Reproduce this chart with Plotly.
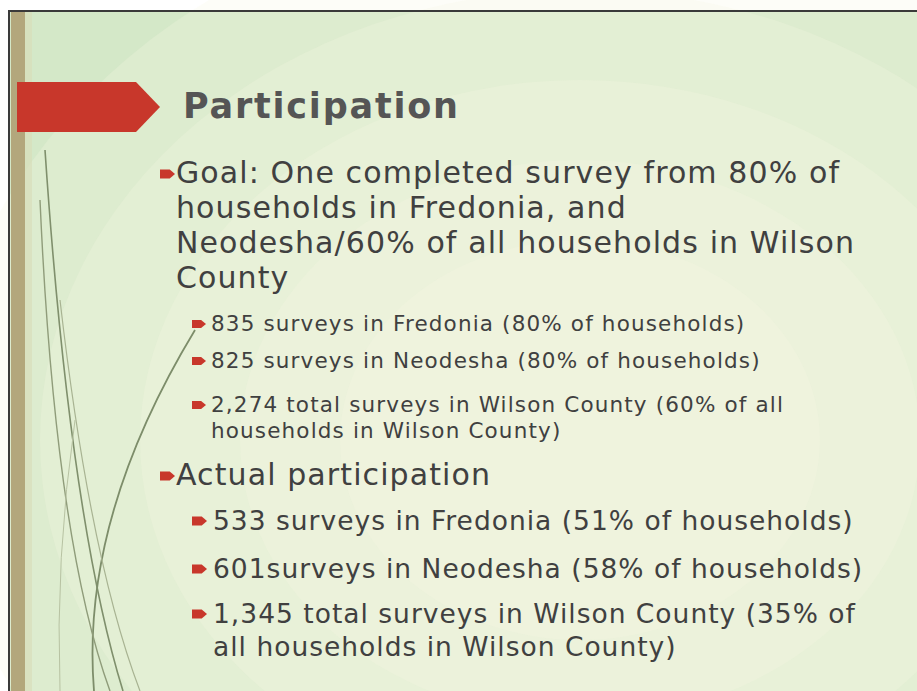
import plotly.graph_objects as go

# ---- content (text of the slide) ----
TITLE = "Participation"
GOAL_LINES = [
    "Goal: One completed survey from 80% of",
    "households in Fredonia, and",
    "Neodesha/60% of all households in Wilson",
    "County",
]
GOAL_ITEMS = [
    ["835 surveys in Fredonia (80% of households)"],
    ["825 surveys in Neodesha (80% of households)"],
    ["2,274 total surveys in Wilson County (60% of all",
     "households in Wilson County)"],
]
ACTUAL_LINES = ["Actual participation"]
ACTUAL_ITEMS = [
    ["533 surveys in Fredonia (51% of households)"],
    ["601surveys in Neodesha (58% of households)"],
    ["1,345 total surveys in Wilson County (35% of",
     "all households in Wilson County)"],
]

# ---- layout (pixel positions on the 917x691 page) ----
W, H = 917, 691
FONT = "DejaVu Sans"
TXT = "#404040"
RED = "#c8372b"

GOAL_Y = [172, 207, 242, 277]
GOAL_ITEM_Y = [[323], [360], [404, 430]]
ACTUAL_Y = [474]
ACTUAL_ITEM_Y = [[520], [568], [613, 646]]

fig = go.Figure()
shapes = []
annotations = []

# page background (scanned white margin at top)
shapes.append(dict(type="rect", x0=0, x1=W, y0=0, y1=H, fillcolor="#ffffff", line_width=0, layer="below"))
# slide base colour
shapes.append(dict(type="rect", x0=8, x1=W, y0=11, y1=H, fillcolor="#d4e8c8", line_width=0, layer="below"))
# radial-ish lighter centre
for rx, ry, op in [(640, 540, 0.25), (540, 450, 0.25), (440, 360, 0.25), (340, 280, 0.25), (240, 200, 0.25)]:
    cx, cy = 580, 440
    shapes.append(dict(type="circle", x0=cx - rx, x1=cx + rx, y0=cy - ry, y1=cy + ry,
                       fillcolor="#f8f6e2", opacity=op, line_width=0, layer="below"))
# top border line
shapes.append(dict(type="line", x0=8, x1=W, y0=11, y1=11, line=dict(color="#3a3a3a", width=2), layer="below"))
# left dark edge and tan strip
shapes.append(dict(type="line", x0=9, x1=9, y0=11, y1=H, line=dict(color="#3a3a3a", width=2), layer="below"))
shapes.append(dict(type="rect", x0=11, x1=25, y0=12, y1=H, fillcolor="#b3a77c", line_width=0, layer="below"))
shapes.append(dict(type="rect", x0=25, x1=32, y0=12, y1=H, fillcolor="#d9dcb8", line_width=0, layer="below", opacity=0.6))

# decorative grass strokes at left
grass = [
    ("M 94 691 Q 80 520 195 330", "#7d8d6a", 1.8),
    ("M 123 691 Q 70 520 45 150", "#7f8f6c", 1.6),
    ("M 110 691 Q 55 540 40 200", "#8f9c7a", 1.4),
    ("M 140 691 Q 90 560 60 300", "#a8b392", 1.2),
    ("M 60 691 Q 55 560 75 420", "#b7c2a2", 1.0),
]
for p, c, w in grass:
    shapes.append(dict(type="path", path=p, line=dict(color=c, width=w), layer="below"))

# red title arrow
shapes.append(dict(type="path", path="M 17 82 L 136 82 L 160 107 L 136 132 L 17 132 Z",
                   fillcolor=RED, line_width=0))

def bullet(x, y, w, h):
    tip = w * 0.35
    return dict(type="path",
                path=f"M {x} {y - h/2} L {x + w - tip} {y - h/2} L {x + w} {y} L {x + w - tip} {y + h/2} L {x} {y + h/2} Z",
                fillcolor=RED, line_width=0)

def text(x, y, s, size, ls, color=TXT, bold=False):
    s = f"<span style='letter-spacing:{ls}px'>{s}</span>"
    if bold:
        s = f"<b>{s}</b>"
    annotations.append(dict(x=x, y=y, xref="x", yref="y", text=s, showarrow=False,
                            xanchor="left", yanchor="middle",
                            font=dict(family=FONT, size=size, color=color)))

# title
text(181, 106, TITLE, 35, 1.8, color="#555555", bold=True)

# level-1 goal
shapes.append(bullet(160, GOAL_Y[0] + 2, 15, 9))
for s, y in zip(GOAL_LINES, GOAL_Y):
    text(174, y, s, 30, 1.1)

# goal sub-items
for lines, ys in zip(GOAL_ITEMS, GOAL_ITEM_Y):
    shapes.append(bullet(192, ys[0] + 1, 14, 8))
    for s, y in zip(lines, ys):
        text(209, y, s, 21.5, 1.15)

# level-1 actual
shapes.append(bullet(160, ACTUAL_Y[0] + 2, 15, 9))
for s, y in zip(ACTUAL_LINES, ACTUAL_Y):
    text(174, y, s, 30, 1.1)

# actual sub-items
for lines, ys in zip(ACTUAL_ITEMS, ACTUAL_ITEM_Y):
    shapes.append(bullet(192, ys[0] + 1, 15, 9))
    for s, y in zip(lines, ys):
        text(211, y, s, 26.5, 1.0)

fig.update_layout(
    width=W, height=H,
    margin=dict(l=0, r=0, t=0, b=0),
    paper_bgcolor="#ffffff", plot_bgcolor="#ffffff",
    xaxis=dict(range=[0, W], visible=False, fixedrange=True),
    yaxis=dict(range=[H, 0], visible=False, fixedrange=True),
    shapes=shapes, annotations=annotations,
    showlegend=False,
)

fig.write_html("out.html", config={"displayModeBar": False},
               post_script="document.body.style.margin='0';document.body.style.padding='0';")
